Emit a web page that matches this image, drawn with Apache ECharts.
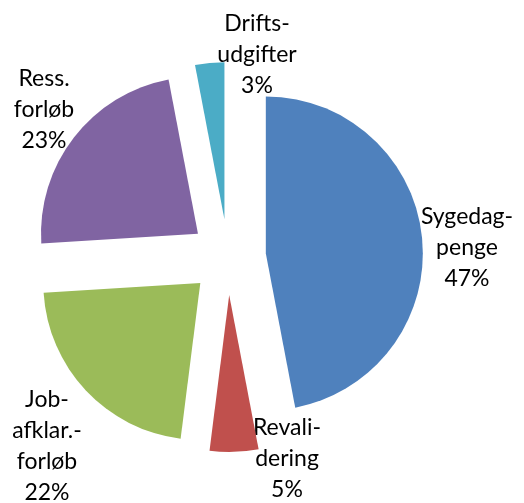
<!DOCTYPE html>
<html>
<head>
<meta charset="utf-8">
<script src="https://cdn.jsdelivr.net/npm/echarts@6/dist/echarts.min.js"></script>
<style>
  html, body { margin: 0; padding: 0; background: #fff; }
  #chart { width: 524px; height: 503px; }
</style>
</head>
<body>
<div id="chart"></div>
<script>
// kategorier og andele (%), med uret fra kl. 12
var categories = ['Sygedag-\npenge', 'Revali-\ndering', 'Job-\nafklar.-\nforløb', 'Ress.\nforløb', 'Drifts-\nudgifter'];
var shares = [47, 5, 22, 23, 3];
var colors = ['#4F81BD', '#C0504D', '#9BBB59', '#8064A2', '#4BACC6'];

// placering af dataetiketter (midtpunkt), som Excel "bedste placering"
var labelPos = [[467, 248], [287, 459], [47, 446], [44, 110], [257, 55]];

var chart = echarts.init(document.getElementById('chart'));

chart.setOption({
  animation: false,
  backgroundColor: '#fff',
  series: [{
    type: 'pie',
    center: [228, 257],
    radius: 157,
    startAngle: 90,
    clockwise: true,
    selectedMode: 'multiple',
    selectedOffset: 38,
    emphasis: { disabled: true },
    itemStyle: { borderWidth: 0 },
    label: { show: false },
    labelLine: { show: false },
    data: categories.map(function (c, i) {
      return { name: c, value: shares[i], selected: true, itemStyle: { color: colors[i] } };
    })
  }],
  graphic: categories.map(function (c, i) {
    return {
      type: 'text',
      x: labelPos[i][0],
      y: labelPos[i][1],
      silent: true,
      style: {
        text: c + '\n' + shares[i] + '%',
        fontFamily: 'Lato',
        fontSize: 23,
        lineHeight: 31,
        fill: '#000',
        align: 'center',
        verticalAlign: 'middle'
      }
    };
  })
});
</script>
</body>
</html>
